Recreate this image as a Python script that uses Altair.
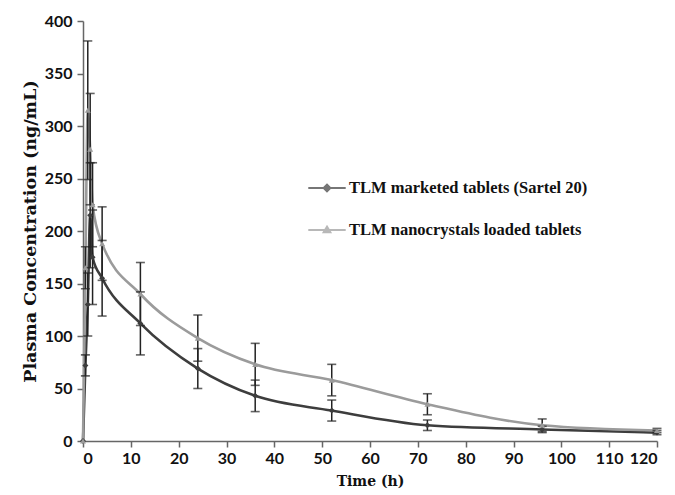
import altair as alt
import pandas as pd

times = [0, 0.5, 1, 1.5, 2, 4, 12, 24, 36, 52, 72, 96, 120]
marketed = [0, 72, 130, 215, 175, 155, 112, 69, 43, 29, 15, 11, 8]
marketed_sd = [0, 10, 30, 50, 45, 36, 30, 19, 15, 10, 5, 3, 2]
nano = [0, 165, 315, 278, 225, 188, 140, 98, 73, 58, 35, 15, 10]
nano_sd = [0, 20, 66, 53, 40, 35, 30, 22, 20, 15, 10, 6, 2]

s1 = "TLM marketed tablets (Sartel 20)"
s2 = "TLM nanocrystals loaded tablets"
series_names = [s1, s2]
colors = ["#3d3d3d", "#9b9b9b"]

rows = []
for t, v, sd in zip(times, marketed, marketed_sd):
    rows.append({"t": t, "c": v, "lo": v - sd, "hi": v + sd, "sd": sd, "series": s1})
for t, v, sd in zip(times, nano, nano_sd):
    rows.append({"t": t, "c": v, "lo": v - sd, "hi": v + sd, "sd": sd, "series": s2})
df = pd.DataFrame(rows)

diamond_path = "M-1,0H1M0,-0.17L0.17,0L0,0.17L-0.17,0ZM0,-0.08L0.08,0L0,0.08L-0.08,0Z"
triangle_path = "M-1,0H1M0,-0.17L0.17,0.12L-0.17,0.12ZM0,-0.06L0.07,0.06L-0.07,0.06Z"

xs = alt.Scale(domain=[0, 120], nice=False)
ys = alt.Scale(domain=[0, 400], nice=False)

x_axis = alt.Axis(values=list(range(0, 121, 10)), title="Time (h)", grid=False,
                  titleFont="DejaVu Serif", titleFontSize=14, titleFontWeight="bold",
                  titleColor="#111", labelFont="Lato", labelFontWeight="bold",
                  labelFontSize=16, labelColor="#111", domainColor="#666",
                  tickColor="#666", tickSize=6, domainWidth=1.5, tickWidth=1.5,
                  labelPadding=3, titlePadding=8)
y_axis = alt.Axis(values=list(range(0, 401, 50)), title="Plasma Concentration  (ng/mL)",
                  grid=False, titleFont="DejaVu Serif", titleFontSize=17.5,
                  titleFontWeight="bold", titleColor="#111", labelFont="Lato",
                  labelFontWeight="bold", labelFontSize=16, labelColor="#111",
                  domainColor="#666", tickColor="#666", tickSize=6, domainWidth=1.5,
                  tickWidth=1.5, labelPadding=5, titlePadding=5)

leg = alt.Legend(title=None, orient="none", legendX=224, legendY=147,
                 labelFont="Liberation Serif", labelFontSize=16.5,
                 labelColor="#111", labelFontWeight="bold", labelLimit=0,
                 symbolSize=1400, symbolStrokeWidth=2.2,
                 rowPadding=13, labelOffset=2, symbolOffset=0)

base = alt.Chart(df)

lines = base.mark_line(strokeWidth=2.6, interpolate="monotone").encode(
    x=alt.X("t:Q", scale=xs, axis=x_axis),
    y=alt.Y("c:Q", scale=ys, axis=y_axis),
    color=alt.Color("series:N", scale=alt.Scale(domain=series_names, range=colors),
                    legend=None),
    detail="series:N",
)

err_df = base.transform_filter("datum.sd > 0")
err_rules = err_df.mark_rule(color="#222", strokeWidth=1.5).encode(
    x="t:Q", y="lo:Q", y2="hi:Q")
cap_hi = err_df.mark_tick(color="#222", orient="horizontal", size=9, thickness=1.6).encode(
    x="t:Q", y="hi:Q")
cap_lo = err_df.mark_tick(color="#222", orient="horizontal", size=9, thickness=1.6).encode(
    x="t:Q", y="lo:Q")

points = base.mark_point(filled=True, size=36, opacity=1).encode(
    x="t:Q", y="c:Q",
    color=alt.Color("series:N", scale=alt.Scale(domain=series_names, range=colors),
                    legend=None),
    shape=alt.Shape("series:N", scale=alt.Scale(domain=series_names,
                                                 range=["diamond", "triangle-up"]),
                    legend=None),
)

legend_layer = base.transform_filter("false").transform_calculate(
    lg="datum.series"
).mark_point(filled=False, strokeWidth=2.2).encode(
    x="t:Q", y="c:Q",
    color=alt.Color("lg:N", scale=alt.Scale(domain=series_names, range=colors), legend=leg),
    shape=alt.Shape("lg:N", scale=alt.Scale(domain=series_names,
                                             range=[diamond_path, triangle_path]),
                    legend=leg),
)

chart = alt.layer(lines, err_rules, cap_hi, cap_lo, points, legend_layer).resolve_scale(
    shape="independent", color="independent"
).properties(
    width=574, height=420,
    autosize=alt.AutoSizeParams(type="none"),
    padding={"left": 75, "top": 13, "right": 10, "bottom": 52},
    background="white",
).configure_view(stroke=None)

chart.save("out.html", embed_options={"renderer": "svg", "actions": False})
